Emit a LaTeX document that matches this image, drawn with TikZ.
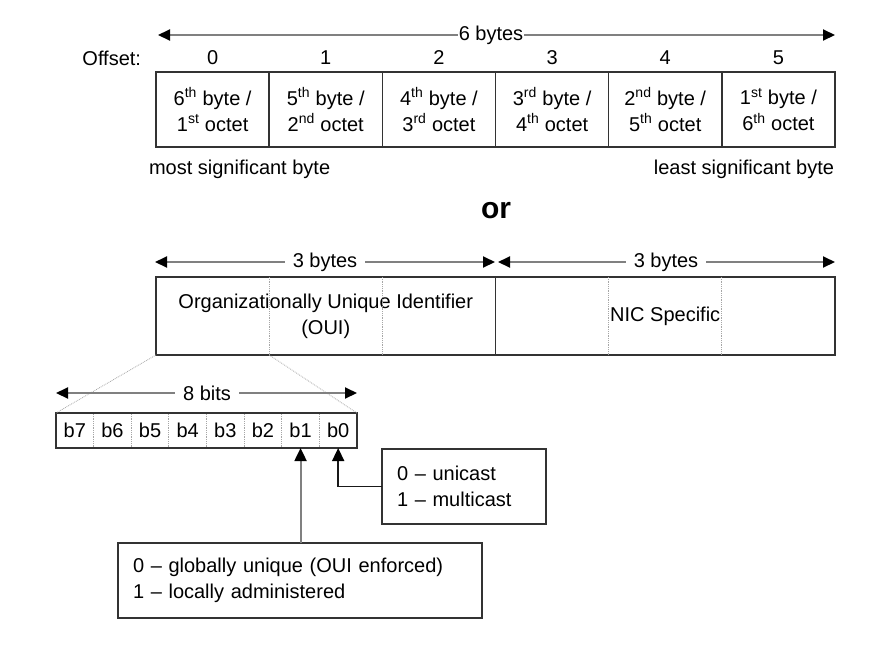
\documentclass[tikz,border=0pt]{standalone}
\usepackage{fontspec}
\setmainfont{Liberation Sans}
\usetikzlibrary{arrows.meta}
\begin{document}
\begin{tikzpicture}[x=1pt,y=-1pt,
  font=\fontsize{20}{26}\selectfont,
  every node/.style={inner sep=0pt, outer sep=0pt},
  cell/.style={draw=black!80, line width=1.5pt, minimum width=113.17pt, minimum height=75pt, align=center},
  frame/.style={draw=black!80, line width=1.5pt},
  sep/.style={draw=black!35, line width=0.8pt, densely dotted},
  tipb/.style={},
  dim/.style={draw=black!50, line width=2pt, {Triangle[length=12pt,width=11pt,color=black]}-{Triangle[length=12pt,width=11pt,color=black]}},
  dimlabel/.style={fill=white, inner xsep=8pt, inner ysep=2pt},
  upgray/.style={draw=black!50, line width=2pt, -{Triangle[length=13pt,width=12pt,color=black]}},
  upblack/.style={draw=black!90, line width=1.5pt, -{Triangle[length=13pt,width=12pt,color=black]}},
  note/.style={draw=black!80, line width=1.5pt, align=left, text width=#1, inner xsep=15pt},
  txt/.style={},
]
\useasboundingbox (0,0) rectangle (875,646);
\fill[white] (0,0) rectangle (875,646);

% ---- top arrow
\coordinate (tL) at (158,35);
\coordinate (tR) at (835,35);
\draw[dim] (tL) -- (tR);
\node[dimlabel, inner xsep=1pt] (t6) at (491,35) {6 bytes};

% ---- offsets
\node[txt, anchor=east] (offset) at (141,58) {Offset:};

% ---- byte cells
\node[cell] (c0) at (212.6,109.5) {6\textsuperscript{th} byte /\\1\textsuperscript{st} octet};
\node[cell] (c1) at (325.7,109.5) {5\textsuperscript{th} byte /\\2\textsuperscript{nd} octet};
\node[cell] (c2) at (438.9,109.5) {4\textsuperscript{th} byte /\\3\textsuperscript{rd} octet};
\node[cell] (c3) at (552.1,109.5) {3\textsuperscript{rd} byte /\\4\textsuperscript{th} octet};
\node[cell] (c4) at (665.2,109.5) {2\textsuperscript{nd} byte /\\5\textsuperscript{th} octet};
\node[cell] (c5) at (778.4,109.5) {1\textsuperscript{st} byte /\\6\textsuperscript{th} octet};
\foreach \i in {0,...,5}{
  \node[txt] (o\i) at (c\i.center |- offset) {\i};
}

\node[txt, anchor=west] (msb) at (149,169) {most significant byte};
\node[txt, anchor=east] (lsb) at (834,169) {least significant byte};

\node[font=\fontsize{30}{30}\selectfont\bfseries] (or) at (496,211) {or};

% ---- 3 bytes arrows
\coordinate (aL) at (155,262);
\coordinate (aM1) at (495,262);
\coordinate (aM2) at (498,262);
\coordinate (aR) at (835,262);
\draw[dim] (aL) -- (aM1);
\draw[dim] (aM2) -- (aR);
\node[dimlabel] (b3a) at (325,262) {3 bytes};
\node[dimlabel] (b3b) at (666,262) {3 bytes};

% ---- OUI / NIC box
\node[frame, minimum width=339.5pt, minimum height=78pt, align=center] (oui) at (325.75,316) {Organizationally Unique Identifier\\(OUI)};
\node[frame, minimum width=339.5pt, minimum height=78pt] (nic) at (665.25,316) {NIC Specific};
\draw[sep] (269.2,277) -- (269.2,355);
\draw[sep] (382.3,277) -- (382.3,355);
\draw[sep] (608.7,277) -- (608.7,355);
\draw[sep] (721.8,277) -- (721.8,355);

% ---- bit box
\node[frame, minimum width=301pt, minimum height=35pt] (bits) at (206.5,430.5) {};
\foreach \n [count=\k from 0] in {7,6,5,4,3,2,1,0}{
  \node[txt] (b\n) at (56+37.625*\k+18.8,430.5) {b\n};
}
\foreach \k in {1,...,7}{
  \draw[sep] (56+37.625*\k,414) -- (56+37.625*\k,447);
}
% zoom lines
\draw[sep] (oui.south west) -- (bits.north west);
\draw[sep] (269.2,355) -- (bits.north east);

% ---- 8 bits arrow
\coordinate (eL) at (56,393);
\coordinate (eR) at (357,393);
\draw[dim] (eL) -- (eR);
\node[dimlabel] (e8) at (207,393) {8 bits};

% ---- notes
\node[note=134pt, minimum height=75pt, anchor=north west] (uni) at (382,449) {0 -- unicast\\1 -- multicast};
\node[note=334pt, minimum height=75pt, anchor=north west] (glob) at (118,543) {0 -- globally unique (OUI enforced)\\1 -- locally administered};

\draw[upgray] (glob.north -| b1.south) -- (b1.south |- bits.south);
\draw[upblack] (uni.west) -| (b0.south |- bits.south);
\end{tikzpicture}
\end{document}
